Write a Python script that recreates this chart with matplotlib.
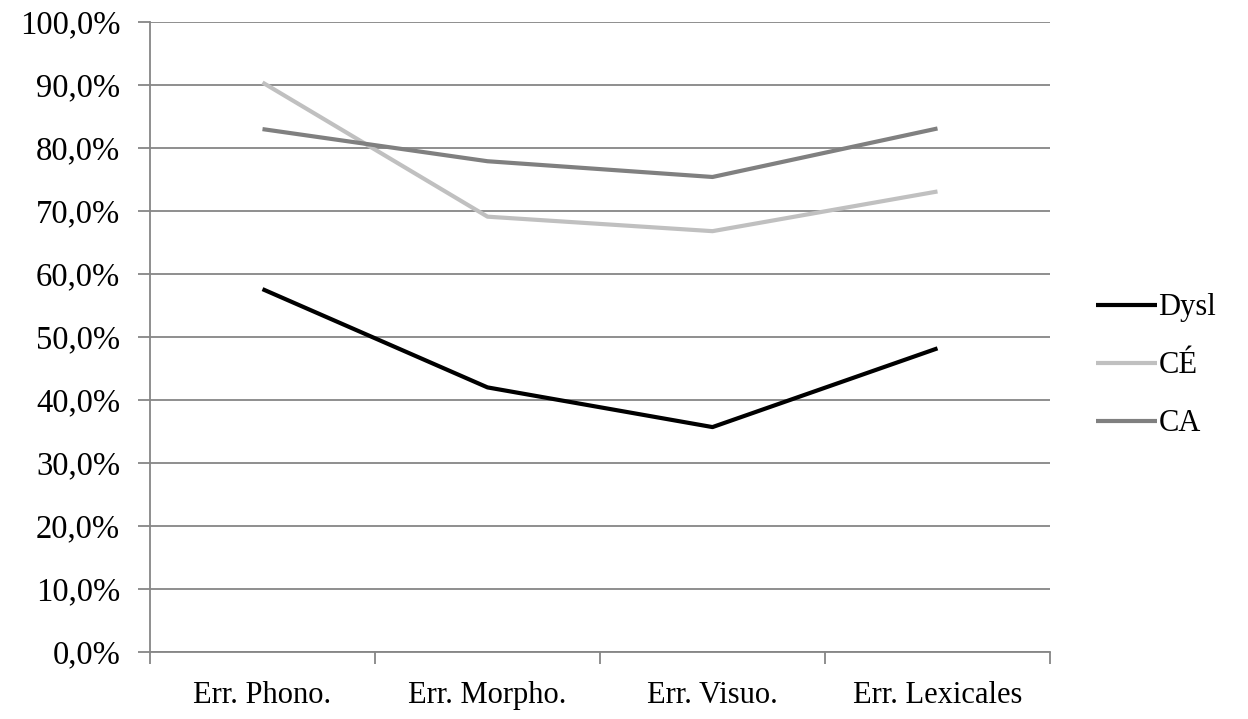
import numpy as np
import matplotlib.pyplot as plt
from matplotlib.ticker import FuncFormatter

categories = ['Err. Phono.', 'Err. Morpho.', 'Err. Visuo.', 'Err. Lexicales']
dysl = [57.6, 42.0, 35.7, 48.2]
ce = [90.4, 69.1, 66.8, 73.1]
ca = [83.0, 77.9, 75.4, 83.1]

plt.rcParams['font.family'] = ['Liberation Serif', 'DejaVu Serif']

fig = plt.figure(figsize=(12.48, 7.19), dpi=100)
ax = fig.add_axes([150/1248, 67/719, 900/1248, 630/719])

x = np.arange(len(categories))
ax.plot(x, dysl, color='black', lw=3.0, label='Dysl', solid_capstyle='butt', zorder=5)
ax.plot(x, ce, color='#c0c0c0', lw=3.0, label='CÉ', solid_capstyle='butt', zorder=4)
ax.plot(x, ca, color='#808080', lw=3.0, label='CA', solid_capstyle='butt', zorder=4)

ax.set_xlim(-0.5, len(categories) - 0.5)
ax.set_ylim(0, 100)
ax.set_yticks(np.arange(0, 101, 10))
ax.yaxis.set_major_formatter(FuncFormatter(lambda v, p: f'{v:.1f}%'.replace('.', ',')))
ax.yaxis.grid(True, color='#868686', lw=1.3)
ax.set_axisbelow(True)

# ticks between categories, labels centred on the categories
ax.set_xticks(np.arange(-0.5, len(categories), 1.0))
ax.set_xticklabels([])
ax.set_xticks(x, minor=True)
ax.set_xticklabels(categories, minor=True)
ax.tick_params(axis='x', which='major', length=8.5, width=1.3, color='#868686', direction='out')
ax.tick_params(axis='x', which='minor', length=0, labelsize=22, pad=21)
ax.tick_params(axis='y', length=8.5, width=1.3, color='#868686', labelsize=23.5, pad=13)

for s in ['top', 'right']:
    ax.spines[s].set_visible(False)
for s in ['left', 'bottom']:
    ax.spines[s].set_color('#868686')
    ax.spines[s].set_linewidth(1.3)

fig.legend(loc='center left', bbox_to_anchor=(0.878, 0.491), frameon=False,
           fontsize=22, handlelength=2.0, handletextpad=0.05, labelspacing=0.95,
           borderpad=0, borderaxespad=0)

fig.savefig('out.png', dpi=100)
